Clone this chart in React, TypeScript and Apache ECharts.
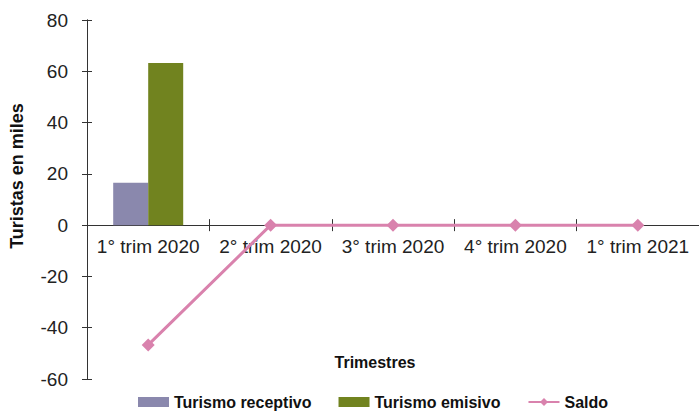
import React, { useEffect, useRef } from "react";
import * as echarts from "echarts";

const categories = ["1° trim 2020", "2° trim 2020", "3° trim 2020", "4° trim 2020", "1° trim 2021"];
const receptivo = [16.5, null, null, null, null];
const emisivo = [63.2, null, null, null, null];
const saldo = [-46.7, 0, 0, 0, 0];
const yMin = -60;
const yMax = 80;
const yInterval = 20;

const FONT = "'Liberation Sans', Arial, Helvetica, sans-serif";

const W = 699;
const H = 412;
const G_LEFT = 87;
const G_RIGHT = -6;
const G_TOP = 20;
const G_BOTTOM = 33;

export default function App() {
  const ref = useRef<HTMLDivElement>(null);
  useEffect(() => {
    if (!ref.current) return;
    const chart = echarts.init(ref.current, null, { renderer: "svg" });
    const axisColor = "#333";
    const gridH = H - G_TOP - G_BOTTOM;
    const zeroFromTop = (yMax / (yMax - yMin)) * gridH;
    const zeroFromBottom = gridH - zeroFromTop;
    const gridBox = { left: G_LEFT, right: G_RIGHT, top: G_TOP, bottom: G_BOTTOM, containLabel: false };
    chart.setOption({
      animation: false,
      backgroundColor: "#fff",
      textStyle: { fontFamily: FONT },
      grid: [gridBox, { ...gridBox }],
      legend: {
        bottom: -3,
        left: 133,
        itemWidth: 31,
        itemHeight: 10,
        itemGap: 27,
        textStyle: { fontFamily: FONT, fontSize: 16, fontWeight: "bold", color: "#111" },
        data: [
          { name: "Turismo receptivo", icon: "rect" },
          { name: "Turismo emisivo", icon: "rect" },
          { name: "Saldo" },
        ],
      },
      graphic: [
        {
          type: "text",
          x: 17,
          y: 176,
          rotation: Math.PI / 2,
          style: {
            text: "Turistas en miles",
            fontFamily: FONT,
            fontSize: 18,
            fontWeight: "bold",
            fill: "#111",
            align: "center",
            verticalAlign: "middle",
          },
        },
        {
          type: "text",
          x: 375,
          y: 362,
          style: {
            text: "Trimestres",
            fontFamily: FONT,
            fontSize: 16,
            fontWeight: "bold",
            fill: "#111",
            align: "center",
            verticalAlign: "middle",
          },
        },
      ],
      xAxis: [
        {
          type: "category",
          gridIndex: 0,
          data: categories,
          position: "bottom",
          offset: -zeroFromBottom,
          axisLine: { onZero: false, lineStyle: { color: axisColor, width: 1 } },
          axisTick: { show: true, length: 6, lineStyle: { color: axisColor } },
          axisLabel: { fontFamily: FONT, fontSize: 19, color: "#222", margin: 12, interval: 0, hideOverlap: false },
          splitLine: { show: false },
        },
        {
          type: "category",
          gridIndex: 1,
          data: categories,
          position: "bottom",
          offset: -zeroFromBottom,
          axisLine: { show: true, onZero: false, lineStyle: { color: axisColor, width: 1 } },
          axisTick: { show: true, inside: true, length: 6, lineStyle: { color: axisColor } },
          axisLabel: { show: false },
          splitLine: { show: false },
        },
      ],
      yAxis: [
        {
          type: "value",
          gridIndex: 0,
          position: "left",
          min: yMin,
          max: yMax,
          interval: yInterval,
          axisLine: { show: true, onZero: false, lineStyle: { color: axisColor, width: 1 } },
          axisTick: { show: true, length: 5, lineStyle: { color: axisColor } },
          axisLabel: { fontFamily: FONT, fontSize: 19, color: "#222", margin: 19 },
          splitLine: { show: false },
        },
        {
          type: "value",
          gridIndex: 1,
          position: "left",
          min: yMin,
          max: yMax,
          interval: yInterval,
          axisLine: { show: true, onZero: false, lineStyle: { color: axisColor, width: 1 } },
          axisTick: { show: true, inside: true, length: 5, lineStyle: { color: axisColor } },
          axisLabel: { show: false },
          splitLine: { show: false },
        },
      ],
      series: [
        {
          name: "Turismo receptivo",
          type: "bar",
          data: receptivo,
          barWidth: 35,
          barGap: "0%",
          itemStyle: { color: "#8a88ad" },
        },
        {
          name: "Turismo emisivo",
          type: "bar",
          data: emisivo,
          barWidth: 35,
          barGap: "0%",
          itemStyle: { color: "#71831f" },
        },
        {
          name: "Saldo",
          type: "line",
          data: saldo,
          symbol: "diamond",
          symbolSize: 13,
          lineStyle: { color: "#d982ad", width: 3 },
          itemStyle: { color: "#d982ad" },
          z: 5,
        },
        {
          type: "line",
          xAxisIndex: 1,
          yAxisIndex: 1,
          data: [],
          silent: true,
          showSymbol: false,
          lineStyle: { opacity: 0 },
        },
      ],
    });
    return () => chart.dispose();
  }, []);
  return (
    <div
      ref={ref}
      style={{ position: "fixed", left: 0, top: 0, width: W, height: H }}
    />
  );
}
